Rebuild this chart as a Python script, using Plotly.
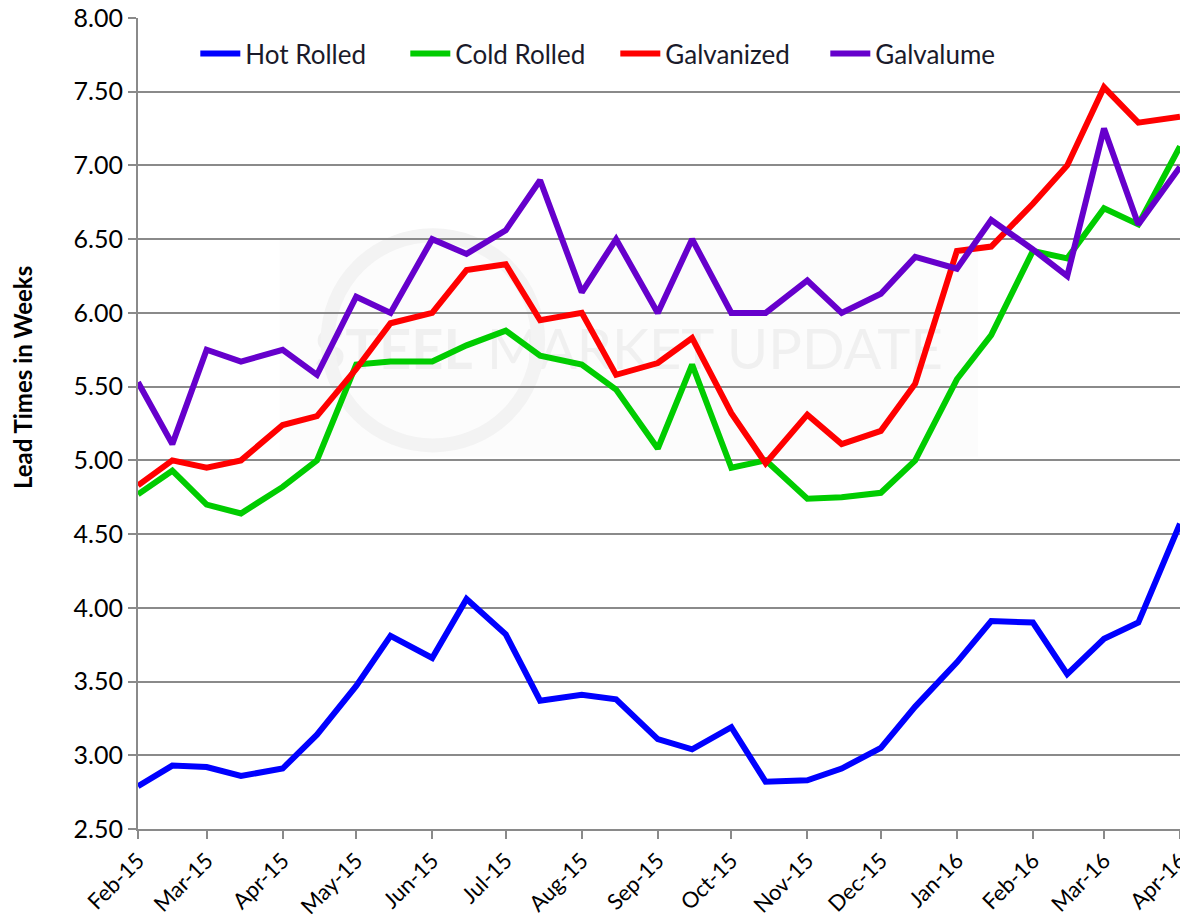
import plotly.graph_objects as go

# Semi-monthly survey dates
dates = [
    "2015-02-01", "2015-02-15", "2015-03-01", "2015-03-15", "2015-04-01", "2015-04-15",
    "2015-05-01", "2015-05-15", "2015-06-01", "2015-06-15", "2015-07-01", "2015-07-15",
    "2015-08-01", "2015-08-15", "2015-09-01", "2015-09-15", "2015-10-01", "2015-10-15",
    "2015-11-01", "2015-11-15", "2015-12-01", "2015-12-15", "2016-01-01", "2016-01-15",
    "2016-02-01", "2016-02-15", "2016-03-01", "2016-03-15", "2016-04-01",
]

# Month ticks on the date axis
month_ticks = [
    "2015-02-01", "2015-03-01", "2015-04-01", "2015-05-01", "2015-06-01",
    "2015-07-01", "2015-08-01", "2015-09-01", "2015-10-01", "2015-11-01",
    "2015-12-01", "2016-01-01", "2016-02-01", "2016-03-01", "2016-04-01",
]
month_labels = [
    "Feb-15", "Mar-15", "Apr-15", "May-15", "Jun-15", "Jul-15", "Aug-15",
    "Sep-15", "Oct-15", "Nov-15", "Dec-15", "Jan-16", "Feb-16", "Mar-16", "Apr-16",
]

# Lead times in weeks
hot_rolled = [
    2.79, 2.93, 2.92, 2.86, 2.91, 3.14, 3.47, 3.81, 3.66, 4.06, 3.82, 3.37,
    3.41, 3.38, 3.11, 3.04, 3.19, 2.82, 2.83, 2.91, 3.05, 3.33, 3.63, 3.91,
    3.90, 3.55, 3.79, 3.90, 4.57,
]
cold_rolled = [
    4.77, 4.93, 4.70, 4.64, 4.82, 5.00, 5.65, 5.67, 5.67, 5.78, 5.88, 5.71,
    5.65, 5.48, 5.08, 5.65, 4.95, 5.00, 4.74, 4.75, 4.78, 5.00, 5.55, 5.85,
    6.42, 6.37, 6.71, 6.60, 7.13,
]
galvanized = [
    4.83, 5.00, 4.95, 5.00, 5.24, 5.30, 5.62, 5.93, 6.00, 6.29, 6.33, 5.95,
    6.00, 5.58, 5.66, 5.83, 5.32, 4.98, 5.31, 5.11, 5.20, 5.52, 6.42, 6.45,
    6.74, 7.00, 7.53, 7.29, 7.33,
]
galvalume = [
    5.53, 5.11, 5.75, 5.67, 5.75, 5.58, 6.11, 6.00, 6.50, 6.40, 6.56, 6.90,
    6.14, 6.50, 6.00, 6.50, 6.00, 6.00, 6.22, 6.00, 6.13, 6.38, 6.30, 6.63,
    6.43, 6.25, 7.25, 6.60, 6.99,
]

series = [
    ("Hot Rolled", hot_rolled, "#0000FF"),
    ("Cold Rolled", cold_rolled, "#00CC00"),
    ("Galvanized", galvanized, "#FF0000"),
    ("Galvalume", galvalume, "#6600CC"),
]

FONT = "Lato, Open Sans, sans-serif"
GRID = "#8a8a8a"

fig = go.Figure()
for name, values, color in series:
    fig.add_trace(go.Scatter(
        x=dates, y=values, name=name, mode="lines",
        line=dict(color=color, width=6),
    ))

# Faint watermark behind the plot
fig.add_shape(
    type="rect", xref="paper", yref="paper", layer="below",
    x0=0.136, x1=0.806, y0=0.459, y1=0.730,
    fillcolor="#fcfcfc", line=dict(width=0),
    label=dict(text="<b>STEEL</b> MARKET UPDATE",
               font=dict(family=FONT, size=56, color="#f0f0f0")),
)
fig.add_shape(
    type="circle", xref="paper", yref="paper", layer="below",
    x0=0.182, x1=0.384, y0=0.473, y1=0.732,
    line=dict(color="#f3f3f3", width=14),
)

# Axis title placed as free text
fig.add_annotation(
    text="<b>Lead Times in Weeks</b>", xref="paper", yref="paper",
    x=-0.1115, y=0.557, xanchor="center", yanchor="middle",
    textangle=-90, showarrow=False,
    font=dict(family=FONT, size=24, color="#000000"),
)

fig.update_layout(
    width=1180, height=920,
    margin=dict(l=138, r=0, t=18, b=91),
    paper_bgcolor="white", plot_bgcolor="white",
    font=dict(family=FONT, size=22, color="#000000"),
    showlegend=True,
    legend=dict(
        orientation="h", x=0.055, y=0.985, xanchor="left", yanchor="top",
        bgcolor="rgba(0,0,0,0)", font=dict(family=FONT, size=26, color="#1a1a2a"),
        itemwidth=40, entrywidth=155, entrywidthmode="pixels",
    ),
    xaxis=dict(
        type="date", range=["2015-02-01", "2016-04-01"],
        tickmode="array", tickvals=month_ticks, ticktext=month_labels,
        tickangle=-45, ticklabeloverflow="allow", automargin=False,
        showgrid=False, showline=True, linecolor=GRID, linewidth=2,
        ticks="outside", ticklen=8, tickwidth=2, tickcolor=GRID,
        tickfont=dict(family=FONT, size=22),
        zeroline=False,
    ),
    yaxis=dict(
        range=[2.5, 8.0], dtick=0.5, tick0=2.5, tickformat=".2f",
        automargin=False,
        showgrid=True, gridcolor=GRID, gridwidth=2,
        showline=True, linecolor=GRID, linewidth=2,
        ticks="outside", ticklen=8, tickwidth=2, tickcolor=GRID,
        tickfont=dict(family=FONT, size=25),
        zeroline=False,
    ),
)

fig.write_html("out.html")
